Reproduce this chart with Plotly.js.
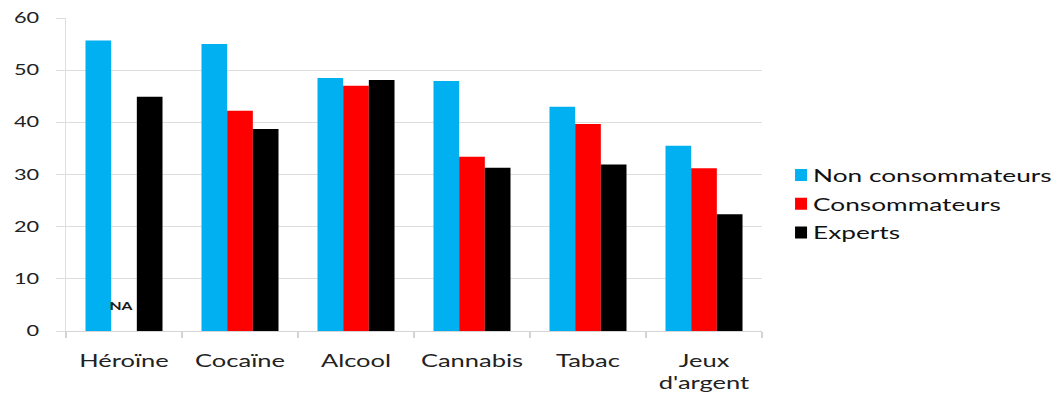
<!DOCTYPE html>
<html>
<head>
<meta charset="utf-8">
<script src="https://cdn.plot.ly/plotly-3.0.1.min.js"></script>
<style>
html,body{margin:0;padding:0;background:#fff;overflow:hidden;}
#wrap{width:1053px;height:394px;overflow:hidden;}
#chart{width:702px;height:394px;transform:scaleX(1.5);transform-origin:0 0;}
#chart .legend .legendtext{transform:translateX(-12px);}
#chart .legend .legendpoints path{d:path("M4,6H-4V-6H4Z");}
</style>
</head>
<body>
<div id="wrap"><div id="chart"></div></div>
<script>
const categories = ["Héroïne", "Cocaïne", "Alcool", "Cannabis", "Tabac", "Jeux<br>d'argent"];
const seriesNames = ["Non consommateurs", "Consommateurs", "Experts"];
const nonConsommateurs = [55.7, 55.0, 48.5, 47.9, 43.0, 35.5];
const consommateurs = [null, 42.2, 47.0, 33.4, 39.7, 31.2];
const experts = [44.9, 38.7, 48.1, 31.3, 31.9, 22.4];
const colors = ["#00B0F0", "#FF0000", "#000000"];
const yTicks = [0, 10, 20, 30, 40, 50, 60];

const allSeries = [nonConsommateurs, consommateurs, experts];
const traces = allSeries.map((vals, i) => ({
  type: "bar",
  name: seriesNames[i],
  legendgroup: "g" + i,
  x: categories,
  y: vals,
  marker: {color: colors[i], line: {width: 0}},
  hoverinfo: "x+y+name"
}));

const FONT = "Lato, 'Open Sans', sans-serif";
const layout = {
  width: 702,
  height: 394,
  margin: {l: 44, r: 194, t: 18, b: 63, autoexpand: false},
  paper_bgcolor: "#ffffff",
  plot_bgcolor: "#ffffff",
  barmode: "group",
  bargap: 0.336,
  bargroupgap: 0,
  font: {family: FONT, size: 17, color: "#222222"},
  xaxis: {
    type: "category",
    automargin: false,
    tickangle: 0,
    showgrid: false,
    showline: true,
    linecolor: "#d4d4d4",
    linewidth: 1,
    ticks: "outside",
    tickson: "boundaries",
    ticklen: 6,
    tickcolor: "#d4d4d4",
    tickfont: {family: FONT, size: 17, color: "#222222"},
    ticklabelstandoff: 15,
    fixedrange: true
  },
  yaxis: {
    range: [0, 60],
    automargin: false,
    tickvals: yTicks,
    showgrid: true,
    gridcolor: "#dedede",
    gridwidth: 1,
    zeroline: false,
    showline: true,
    linecolor: "#dedede",
    ticks: "outside",
    ticklen: 6,
    tickcolor: "#dedede",
    tickfont: {family: FONT, size: 14.5, color: "#222222"},
    ticklabelstandoff: 8,
    fixedrange: true
  },
  legend: {
    x: 1.013,
    y: 0.405,
    xanchor: "left",
    yanchor: "middle",
    font: {family: FONT, size: 17.5, color: "#111111"},
    itemwidth: 30,
    tracegroupgap: 3,
    bgcolor: "rgba(0,0,0,0)"
  },
  showlegend: true,
  annotations: [{
    x: categories[0],
    y: 4.8,
    xref: "x",
    yref: "y",
    xshift: -1.5,
    text: "<b>NA</b>",
    showarrow: false,
    font: {size: 10.5, color: "#1a1a1a", family: FONT}
  }]
};

Plotly.newPlot("chart", traces, layout, {displayModeBar: false, staticPlot: true});
</script>
</body>
</html>
